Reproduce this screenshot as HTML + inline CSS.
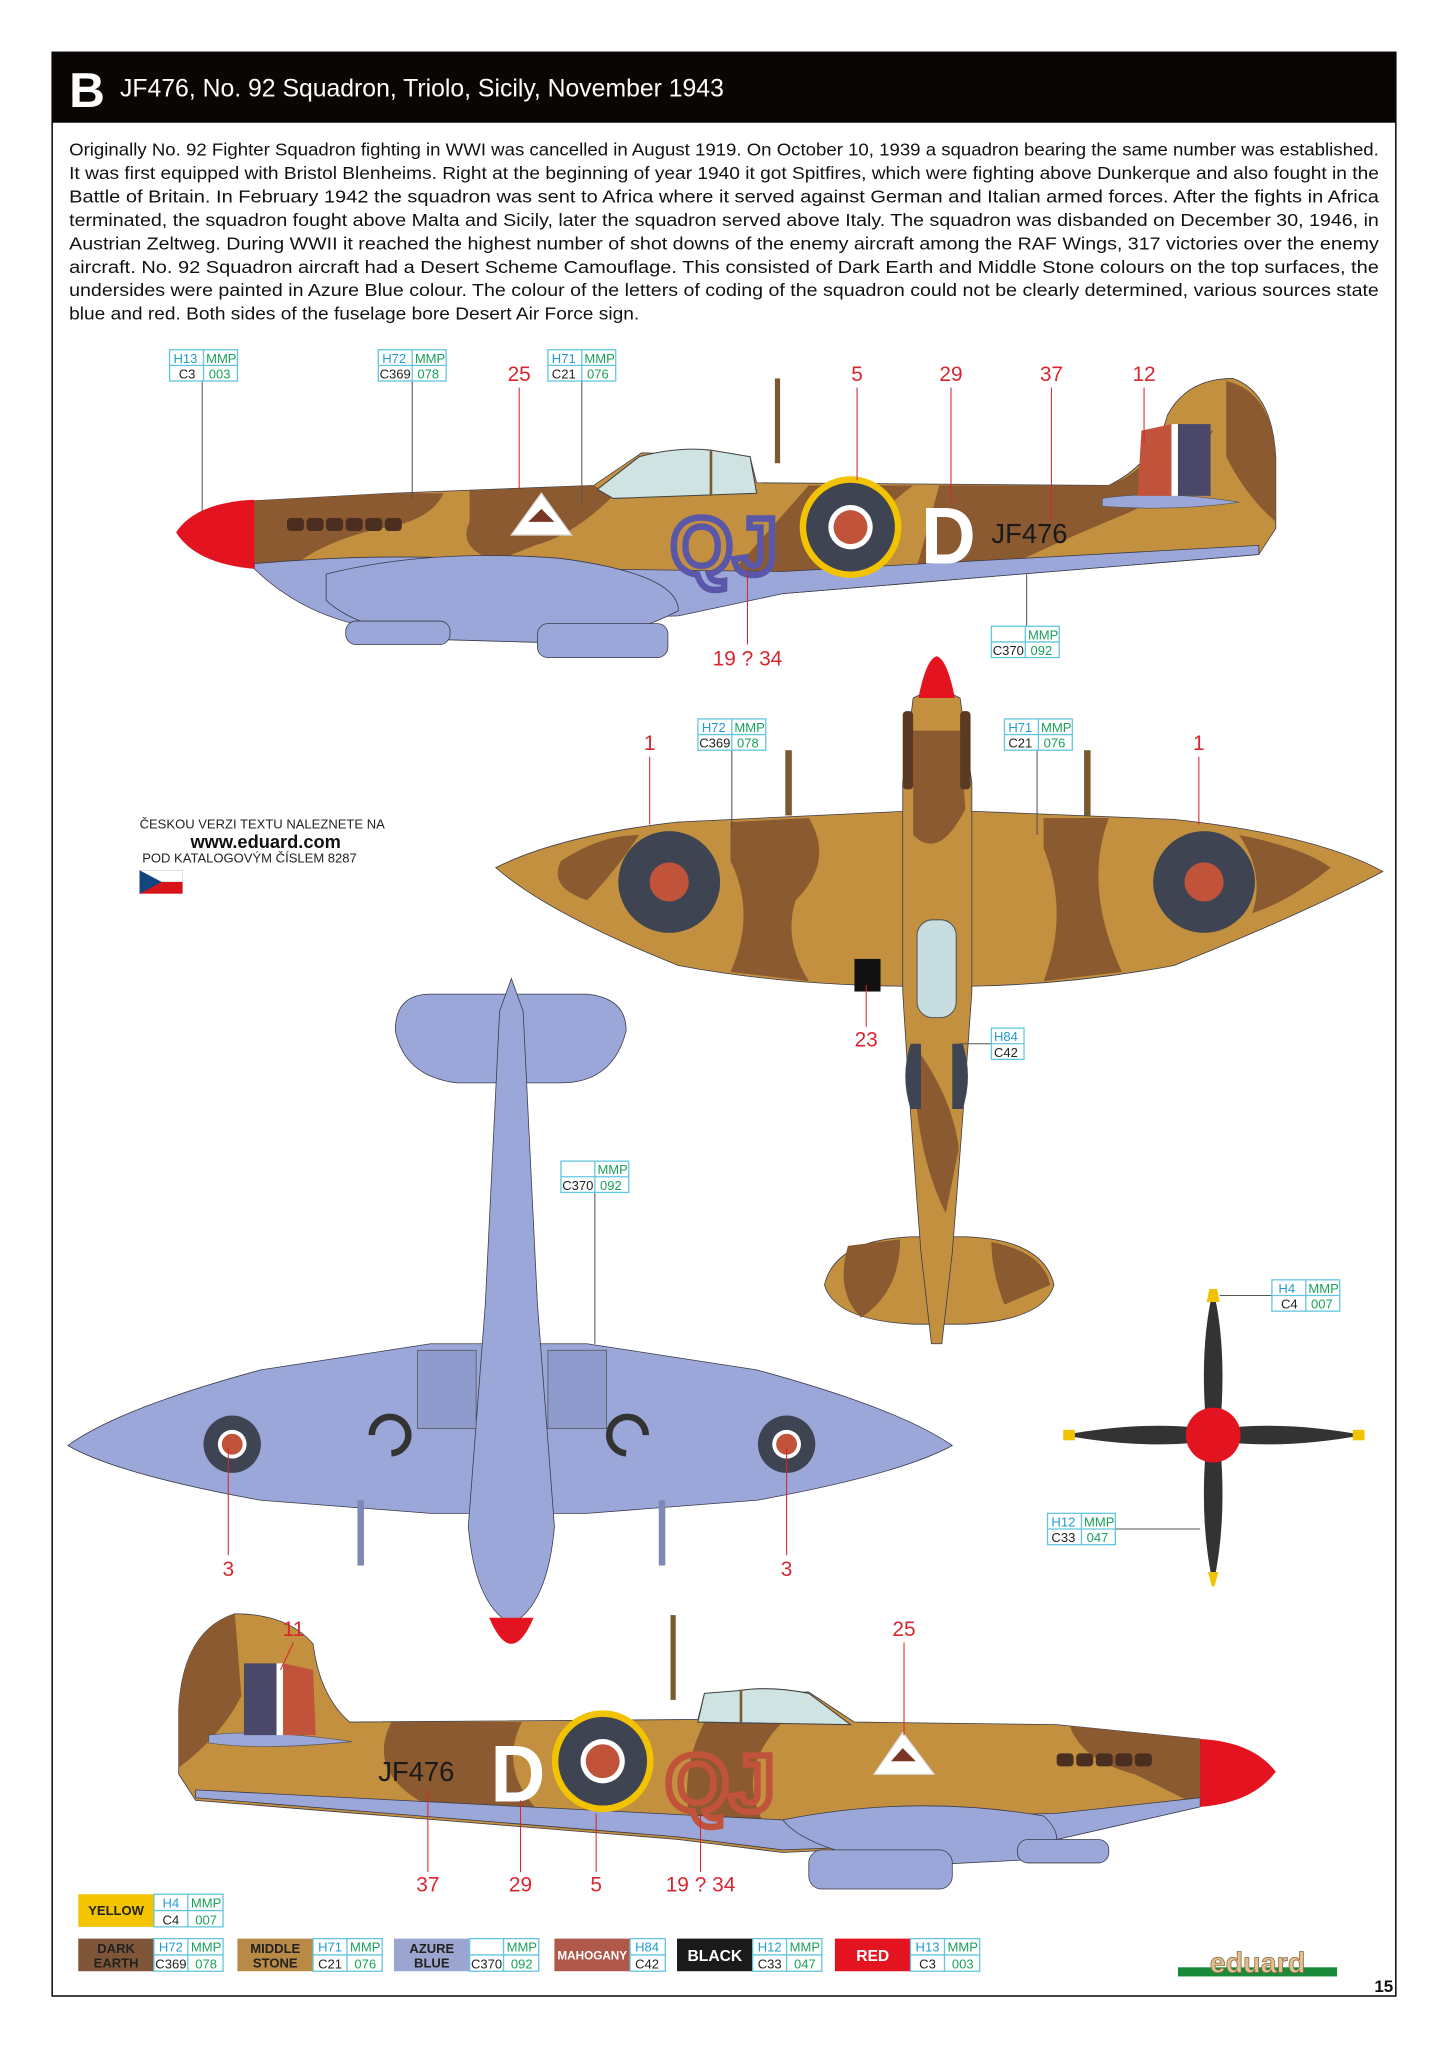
<!DOCTYPE html>
<html><head><meta charset="utf-8"><style>
html,body{margin:0;padding:0;background:#fff}
svg{display:block}
text{font-family:"Liberation Sans Narrow","Liberation Sans",sans-serif}
.p{font-size:13.6px;fill:#111}
.rn{font-size:16px;fill:#d8262f;text-anchor:middle}
.bx{fill:#fff;stroke:#63c6e0;stroke-width:1}
.c1{fill:#1f9bd0;font-size:10px}
.c2{fill:#1aa05a;font-size:10px}
.c3{fill:#222;font-size:10px}
.ld{stroke:#555;stroke-width:0.8;fill:none}
.rl{stroke:#d8262f;stroke-width:0.8;fill:none}
.ms{fill:#c2903f}
.de{fill:#8b5a30}
.az{fill:#9ba7d8}
.ol{stroke:#3a3a4a;stroke-width:0.6}
.code{font-family:"Liberation Sans",sans-serif;font-weight:bold;font-size:62px}
</style></head><body>
<svg width="1448" height="2047" viewBox="0 0 1110 1569" xmlns="http://www.w3.org/2000/svg">
<rect x="40" y="40" width="1030" height="1490" fill="#fff" stroke="#111" stroke-width="1.2"/>
<rect x="40" y="40" width="1030" height="54" fill="#0a0604"/>
<text x="53" y="82" fill="#fff" font-size="38" font-weight="bold" style="font-family:'Liberation Sans',sans-serif">B</text>
<text x="92" y="74" fill="#fff" font-size="19">JF476, No. 92 Squadron, Triolo, Sicily, November 1943</text>

<g class="p">
<text x="53" y="119" textLength="1004" lengthAdjust="spacingAndGlyphs">Originally No. 92 Fighter Squadron fighting in WWI was cancelled in August 1919. On October 10, 1939 a squadron bearing the same number was established.</text>
<text x="53" y="137" textLength="1004" lengthAdjust="spacingAndGlyphs">It was first equipped with Bristol Blenheims. Right at the beginning of year 1940 it got Spitfires, which were fighting above Dunkerque and also fought in the</text>
<text x="53" y="155" textLength="1004" lengthAdjust="spacingAndGlyphs">Battle of Britain. In February 1942 the squadron was sent to Africa where it served against German and Italian armed forces. After the fights in Africa</text>
<text x="53" y="173" textLength="1004" lengthAdjust="spacingAndGlyphs">terminated, the squadron fought above Malta and Sicily, later the squadron served above Italy. The squadron was disbanded on December 30, 1946, in</text>
<text x="53" y="191" textLength="1004" lengthAdjust="spacingAndGlyphs">Austrian Zeltweg. During WWII it reached the highest number of shot downs of the enemy aircraft among the RAF Wings, 317 victories over the enemy</text>
<text x="53" y="209" textLength="1004" lengthAdjust="spacingAndGlyphs">aircraft. No. 92 Squadron aircraft had a Desert Scheme Camouflage. This consisted of Dark Earth and Middle Stone colours on the top surfaces, the</text>
<text x="53" y="227" textLength="1004" lengthAdjust="spacingAndGlyphs">undersides were painted in Azure Blue colour. The colour of the letters of coding of the squadron could not be clearly determined, various sources state</text>
<text x="53" y="245" textLength="437" lengthAdjust="spacingAndGlyphs">blue and red. Both sides of the fuselage bore Desert Air Force sign.</text>
</g>

<!-- ===== SIDE VIEW 1 ===== -->
<g>
<rect x="594" y="290" width="4" height="65" fill="#7a5a30"/>
<path class="ms ol" d="M190,384 L300,378 L455,372 L492,347 L575,350 L580,370 L850,372 Q885,355 895,318 Q910,290 945,290 Q975,300 978,350 L978,405 L965,425 L600,455 L520,468 L300,470 L195,436 Z"/>
<path class="de" d="M190,384 L300,378 L340,378 Q330,400 290,405 Q250,415 230,430 L195,436 Z"/>
<path class="de" d="M360,376 L455,372 L470,380 Q440,410 410,418 L380,430 Q350,420 360,400 Z"/>
<path class="de" d="M560,440 L620,372 L700,372 Q650,410 640,450 Z"/>
<path class="de" d="M720,372 L850,372 Q880,360 890,335 L930,330 Q900,380 860,395 Q800,420 760,440 L700,445 Z"/>
<path class="de" d="M940,292 Q975,300 978,350 L978,400 Q955,380 940,350 Z"/>
<path d="M458,375 L490,350 Q520,342 545,345 L575,350 L580,378 L470,382 Z" fill="#cfe3e2" stroke="#444" stroke-width="0.8"/>
<path d="M545,345 L545,380" stroke="#7a5a30" stroke-width="2"/>
<path class="az ol" d="M195,436 Q230,470 280,480 L520,472 L600,455 L965,425 L965,418 L600,438 L440,436 Q330,420 195,432 Z"/>
<path class="az ol" d="M250,440 Q330,420 430,428 Q520,440 520,468 Q470,495 400,492 L330,490 Q270,480 250,460 Z"/>
<rect class="az ol" x="265" y="476" width="80" height="18" rx="8"/>
<rect class="az ol" x="412" y="478" width="100" height="26" rx="8"/>
<path d="M845,382 Q890,375 950,385 Q900,392 845,388 Z" fill="#9ba7d8" stroke="#555" stroke-width="0.5"/>
<path d="M135,408 Q150,385 195,383 L195,436 Q150,432 135,408 Z" fill="#e3141f"/>
<g fill="#4a2e20"><rect x="220" y="397" width="13" height="10" rx="3"/><rect x="235" y="397" width="13" height="10" rx="3"/><rect x="250" y="397" width="13" height="10" rx="3"/><rect x="265" y="397" width="13" height="10" rx="3"/><rect x="280" y="397" width="13" height="10" rx="3"/><rect x="295" y="397" width="13" height="10" rx="3"/></g>
<path d="M415,378 L392,410 L438,410 Z" fill="#fff" stroke="#ddd"/>
<path d="M405,400 L415,390 L425,400 Z" fill="#7a3525"/>
<path d="M875,330 L898,325 L898,380 L872,380 Z" fill="#c0533a"/>
<rect x="898" y="325" width="5" height="55" fill="#fff"/>
<rect x="903" y="325" width="25" height="55" fill="#4a4868"/>
<circle cx="652" cy="404" r="39" fill="#f2c300"/>
<circle cx="652" cy="404" r="34" fill="#3e4452"/>
<circle cx="652" cy="404" r="17" fill="#fff"/>
<circle cx="652" cy="404" r="13" fill="#c0533a"/>
<text x="706" y="432" class="code" fill="#fff" textLength="42" lengthAdjust="spacingAndGlyphs">D</text>
<text x="514" y="440" class="code" fill="none" stroke="#5a57a8" stroke-width="5" textLength="82" lengthAdjust="spacingAndGlyphs">QJ</text>
<text x="760" y="416" font-size="21" fill="#1a1a1a">JF476</text>
</g>

<!-- ===== TOP VIEW ===== -->
<g>
<path class="ms ol" d="M380,665 Q430,640 520,630 L690,622 L750,622 L900,628 Q1010,640 1060,668 Q1000,700 900,740 Q820,755 740,756 L695,756 Q600,755 520,740 Q420,700 380,665 Z"/>
<path class="de" d="M560,630 L620,627 Q640,660 610,690 Q600,720 620,752 L560,745 Q580,700 560,660 Z"/>
<path class="de" d="M430,660 Q460,640 490,640 Q470,670 450,690 Q420,680 430,660 Z"/>
<path class="de" d="M800,627 L850,627 Q830,680 860,745 L800,752 Q820,700 800,650 Z"/>
<path class="de" d="M950,640 Q1000,650 1020,665 Q990,690 960,700 Q970,670 950,640 Z"/>
<path class="ms ol" d="M632,985 Q640,950 700,948 L740,948 Q800,950 808,985 Q800,1012 740,1015 L700,1015 Q640,1012 632,985 Z"/>
<path class="de" d="M650,955 L690,950 Q690,990 660,1010 Q640,990 650,955 Z"/>
<path class="de" d="M760,952 Q800,960 805,985 L770,1000 Q760,975 760,952 Z"/>
<path class="ms ol" d="M700,535 Q718,525 736,535 L745,600 L745,760 Q738,860 730,960 L722,1030 L714,1030 L706,960 Q698,860 692,760 L692,600 Z"/>
<path class="de" d="M700,560 L736,560 L740,620 Q720,660 700,640 Z"/>
<path class="de" d="M700,800 Q730,840 735,880 L725,930 Q700,880 700,800 Z"/>
<path d="M704,535 Q710,505 718,503 Q726,505 732,535 Z" fill="#e3141f"/>
<g fill="#5a3a22"><rect x="692" y="545" width="8" height="60" rx="3"/><rect x="736" y="545" width="8" height="60" rx="3"/></g>
<rect x="703" y="705" width="30" height="75" rx="12" fill="#c8dde0" stroke="#555" stroke-width="0.8"/>
<rect x="655" y="735" width="20" height="25" fill="#111"/>
<rect x="602" y="575" width="5" height="50" fill="#7a5a30"/>
<rect x="831" y="575" width="5" height="50" fill="#7a5a30"/>
<circle cx="513" cy="676" r="39" fill="#3e4452"/><circle cx="513" cy="676" r="15" fill="#c0533a"/>
<circle cx="923" cy="676" r="39" fill="#3e4452"/><circle cx="923" cy="676" r="15" fill="#c0533a"/>
<path d="M698,800 Q690,825 698,850 L706,850 L706,800 Z" fill="#3e4452"/>
<path d="M738,800 Q746,825 738,850 L730,850 L730,800 Z" fill="#3e4452"/>
</g>

<!-- ===== BOTTOM VIEW ===== -->
<g>
<path class="az ol" d="M303,790 Q303,762 330,762 L450,762 Q480,765 480,790 Q470,830 430,830 L350,830 Q310,825 303,790 Z"/>
<path class="az ol" d="M52,1108 Q90,1080 200,1050 L330,1030 L450,1030 L580,1050 Q690,1080 730,1108 Q690,1130 580,1150 L450,1160 L330,1160 L200,1150 Q90,1130 52,1108 Z"/>
<path class="az ol" d="M383,775 L392,750 L401,775 L412,1000 L425,1170 Q420,1230 392,1245 Q364,1230 359,1170 L372,1000 Z"/>
<path d="M375,1240 Q392,1280 409,1240 Z" fill="#e3141f"/>
<rect x="320" y="1035" width="45" height="60" fill="#8f9bcc" stroke="#555" stroke-width="0.6"/>
<rect x="420" y="1035" width="45" height="60" fill="#8f9bcc" stroke="#555" stroke-width="0.6"/>
<rect x="274" y="1150" width="5" height="50" fill="#7f88b5"/><rect x="505" y="1150" width="5" height="50" fill="#7f88b5"/>
<circle cx="178" cy="1107" r="22" fill="#3e4452"/><circle cx="178" cy="1107" r="11" fill="#fff"/><circle cx="178" cy="1107" r="8" fill="#c0533a"/>
<circle cx="603" cy="1107" r="22" fill="#3e4452"/><circle cx="603" cy="1107" r="11" fill="#fff"/><circle cx="603" cy="1107" r="8" fill="#c0533a"/>
<path d="M285,1100 A14,14 0 1 1 300,1114" fill="none" stroke="#333" stroke-width="5"/>
<path d="M495,1100 A14,14 0 1 0 480,1114" fill="none" stroke="#333" stroke-width="5"/>
</g>

<!-- ===== PROPELLER ===== -->
<g>
<path d="M924,1085 Q920,1030 930,988 Q940,1030 936,1085 Z" fill="#333"/>
<path d="M924,1115 Q920,1170 930,1215 Q940,1170 936,1115 Z" fill="#333"/>
<path d="M915,1094 Q870,1090 815,1100 Q870,1110 915,1106 Z" fill="#333"/>
<path d="M945,1094 Q990,1090 1045,1100 Q990,1110 945,1106 Z" fill="#333"/>
<path d="M927,988 L933,988 L935,998 L925,998 Z" fill="#f2c300"/>
<path d="M926,1205 L934,1205 L931,1216 L929,1216 Z" fill="#f2c300"/>
<rect x="815" y="1096" width="9" height="8" fill="#f2c300"/><rect x="1037" y="1096" width="9" height="8" fill="#f2c300"/>
<circle cx="930" cy="1100" r="21" fill="#e3141f"/>
</g>

<!-- ===== SIDE VIEW 2 ===== -->
<g>
<rect x="514" y="1238" width="4" height="65" fill="#7a5a30"/>
<path class="ms ol" d="M920,1333 L810,1322 L655,1320 L620,1297 L540,1298 L535,1318 L268,1320 Q245,1300 240,1260 Q220,1237 180,1237 Q140,1250 137,1310 L137,1360 L150,1380 L520,1410 L600,1420 L810,1410 L920,1385 Z"/>
<path class="de" d="M920,1333 L820,1323 Q830,1350 870,1360 Q900,1375 920,1385 Z"/>
<path class="de" d="M600,1320 L540,1320 Q520,1360 530,1400 L590,1405 Q560,1360 600,1320 Z"/>
<path class="de" d="M400,1320 L300,1320 Q280,1360 330,1385 L420,1395 Q380,1360 400,1320 Z"/>
<path class="de" d="M180,1237 Q140,1250 137,1310 L137,1355 Q170,1330 185,1300 Z"/>
<path d="M652,1322 L620,1298 Q590,1292 565,1296 L540,1298 L535,1320 Z" fill="#cfe3e2" stroke="#444" stroke-width="0.8"/>
<path d="M568,1296 L568,1320" stroke="#7a5a30" stroke-width="2"/>
<path class="az ol" d="M150,1378 L520,1408 L600,1418 L810,1410 L920,1385 L920,1378 L810,1390 L600,1395 L150,1372 Z"/>
<path class="az ol" d="M600,1395 Q700,1375 800,1392 Q820,1410 800,1425 L700,1430 Q620,1420 600,1395 Z"/>
<rect class="az ol" x="620" y="1418" width="110" height="30" rx="10"/>
<rect class="az ol" x="780" y="1410" width="70" height="18" rx="8"/>
<path d="M160,1330 Q200,1325 270,1335 Q200,1342 160,1336 Z" fill="#9ba7d8" stroke="#555" stroke-width="0.5"/>
<path d="M978,1358 Q960,1335 920,1333 L920,1385 Q960,1382 978,1358 Z" fill="#e3141f"/>
<g fill="#4a2e20"><rect x="810" y="1344" width="13" height="10" rx="3"/><rect x="825" y="1344" width="13" height="10" rx="3"/><rect x="840" y="1344" width="13" height="10" rx="3"/><rect x="855" y="1344" width="13" height="10" rx="3"/><rect x="870" y="1344" width="13" height="10" rx="3"/></g>
<path d="M692,1328 L670,1360 L716,1360 Z" fill="#fff" stroke="#ddd"/>
<path d="M683,1350 L692,1340 L702,1350 Z" fill="#7a3525"/>
<rect x="187" y="1275" width="25" height="55" fill="#4a4868"/>
<rect x="212" y="1275" width="5" height="55" fill="#fff"/>
<path d="M217,1275 L240,1280 L242,1330 L217,1330 Z" fill="#c0533a"/>
<circle cx="462" cy="1350" r="39" fill="#f2c300"/>
<circle cx="462" cy="1350" r="34" fill="#3e4452"/>
<circle cx="462" cy="1350" r="17" fill="#fff"/>
<circle cx="462" cy="1350" r="13" fill="#c0533a"/>
<text x="376" y="1381" class="code" fill="#fff" textLength="42" lengthAdjust="spacingAndGlyphs">D</text>
<text x="510" y="1388" class="code" fill="none" stroke="#c0533a" stroke-width="5" textLength="84" lengthAdjust="spacingAndGlyphs">QJ</text>
<text x="290" y="1365" font-size="21" fill="#1a1a1a">JF476</text>
</g>

<!-- Czech text -->
<text x="107" y="635" font-size="10" fill="#222" style="font-family:'Liberation Sans',sans-serif">ČESKOU VERZI TEXTU NALEZNETE NA</text>
<text x="146" y="650" font-size="14" font-weight="bold" fill="#111" style="font-family:'Liberation Sans',sans-serif">www.eduard.com</text>
<text x="109" y="661" font-size="10" fill="#222" style="font-family:'Liberation Sans',sans-serif">POD KATALOGOVÝM ČÍSLEM 8287</text>
<rect x="107" y="667" width="33" height="9" fill="#fff" stroke="#ccc" stroke-width="0.5"/>
<rect x="107" y="676" width="33" height="9" fill="#d7141a"/>
<path d="M107,667 L124,676 L107,685 Z" fill="#11457e"/>

<!-- leader lines -->
<g class="ld">
<path d="M155,292 L155,392"/><path d="M316,292 L316,382"/><path d="M446,292 L446,386"/>
<path d="M787,480 L787,440"/><path d="M561,575 L561,635"/><path d="M795,575 L795,640"/>
<path d="M760,800 L735,800"/><path d="M456,914 L456,1030"/><path d="M975,993 L935,993"/><path d="M855,1172 L920,1172"/>
</g>
<g class="rl">
<path d="M398,297 L398,375"/><path d="M657,297 L657,368"/><path d="M729,297 L729,385"/><path d="M806,297 L806,400"/><path d="M877,297 L877,340"/>
<path d="M573,494 L573,440"/><path d="M498,580 L498,632"/><path d="M919,580 L919,632"/><path d="M664,787 L664,755"/>
<path d="M175,1192 L175,1110"/><path d="M603,1192 L603,1110"/><path d="M225,1259 L215,1280"/><path d="M693,1259 L693,1330"/>
<path d="M328,1435 L328,1372"/><path d="M399,1435 L399,1380"/><path d="M457,1435 L457,1390"/><path d="M537,1435 L537,1390"/>
</g>

<!-- red numbers -->
<g class="rn">
<text x="398" y="292">25</text><text x="657" y="292">5</text><text x="729" y="292">29</text><text x="806" y="292">37</text><text x="877" y="292">12</text>
<text x="573" y="510">19 ? 34</text><text x="498" y="575">1</text><text x="919" y="575">1</text><text x="664" y="802">23</text>
<text x="175" y="1208">3</text><text x="603" y="1208">3</text><text x="225" y="1254">11</text><text x="693" y="1254">25</text>
<text x="328" y="1450">37</text><text x="399" y="1450">29</text><text x="457" y="1450">5</text><text x="537" y="1450">19 ? 34</text>
</g>

<!-- paint boxes -->
<g>
<g transform="translate(130,268)"><rect class="bx" width="52" height="24"/><path d="M0,12H52M26,0V24" stroke="#63c6e0"/><text class="c1" x="3" y="10">H13</text><text class="c2" x="28" y="10">MMP</text><text class="c3" x="7" y="22">C3</text><text class="c2" x="30" y="22">003</text></g>
<g transform="translate(290,268)"><rect class="bx" width="52" height="24"/><path d="M0,12H52M26,0V24" stroke="#63c6e0"/><text class="c1" x="3" y="10">H72</text><text class="c2" x="28" y="10">MMP</text><text class="c3" x="1" y="22">C369</text><text class="c2" x="30" y="22">078</text></g>
<g transform="translate(420,268)"><rect class="bx" width="52" height="24"/><path d="M0,12H52M26,0V24" stroke="#63c6e0"/><text class="c1" x="3" y="10">H71</text><text class="c2" x="28" y="10">MMP</text><text class="c3" x="3" y="22">C21</text><text class="c2" x="30" y="22">076</text></g>
<g transform="translate(760,480)"><rect class="bx" width="52" height="24"/><path d="M0,12H52M26,0V24" stroke="#63c6e0"/><text class="c2" x="28" y="10">MMP</text><text class="c3" x="1" y="22">C370</text><text class="c2" x="30" y="22">092</text></g>
<g transform="translate(535,551)"><rect class="bx" width="52" height="24"/><path d="M0,12H52M26,0V24" stroke="#63c6e0"/><text class="c1" x="3" y="10">H72</text><text class="c2" x="28" y="10">MMP</text><text class="c3" x="1" y="22">C369</text><text class="c2" x="30" y="22">078</text></g>
<g transform="translate(770,551)"><rect class="bx" width="52" height="24"/><path d="M0,12H52M26,0V24" stroke="#63c6e0"/><text class="c1" x="3" y="10">H71</text><text class="c2" x="28" y="10">MMP</text><text class="c3" x="3" y="22">C21</text><text class="c2" x="30" y="22">076</text></g>
<g transform="translate(760,788)"><rect class="bx" width="25" height="24"/><path d="M0,12H25" stroke="#63c6e0"/><text class="c1" x="2" y="10">H84</text><text class="c3" x="2" y="22">C42</text></g>
<g transform="translate(430,890)"><rect class="bx" width="52" height="24"/><path d="M0,12H52M26,0V24" stroke="#63c6e0"/><text class="c2" x="28" y="10">MMP</text><text class="c3" x="1" y="22">C370</text><text class="c2" x="30" y="22">092</text></g>
<g transform="translate(975,981)"><rect class="bx" width="52" height="24"/><path d="M0,12H52M26,0V24" stroke="#63c6e0"/><text class="c1" x="5" y="10">H4</text><text class="c2" x="28" y="10">MMP</text><text class="c3" x="7" y="22">C4</text><text class="c2" x="30" y="22">007</text></g>
<g transform="translate(803,1160)"><rect class="bx" width="52" height="24"/><path d="M0,12H52M26,0V24" stroke="#63c6e0"/><text class="c1" x="3" y="10">H12</text><text class="c2" x="28" y="10">MMP</text><text class="c3" x="3" y="22">C33</text><text class="c2" x="30" y="22">047</text></g>
</g>

<!-- legend -->
<g font-size="10" text-anchor="middle">
<rect x="60" y="1452" width="58" height="25" fill="#f5c400"/><text x="89" y="1468" fill="#222" font-weight="bold">YELLOW</text>
<g transform="translate(118,1452)"><rect class="bx" width="53" height="25"/><path d="M0,12.5H53M26,0V25" stroke="#63c6e0"/><text class="c1" x="13" y="10">H4</text><text class="c2" x="40" y="10">MMP</text><text class="c3" x="13" y="23">C4</text><text class="c2" x="40" y="23">007</text></g>

<rect x="60" y="1486" width="58" height="25" fill="#7f5738"/><text x="89" y="1497" fill="#222" font-weight="bold">DARK</text><text x="89" y="1508" fill="#222" font-weight="bold">EARTH</text>
<g transform="translate(118,1486)"><rect class="bx" width="53" height="25"/><path d="M0,12.5H53M26,0V25" stroke="#63c6e0"/><text class="c1" x="13" y="10">H72</text><text class="c2" x="40" y="10">MMP</text><text class="c3" x="13" y="23">C369</text><text class="c2" x="40" y="23">078</text></g>

<rect x="182" y="1486" width="58" height="25" fill="#b98a45"/><text x="211" y="1497" fill="#222" font-weight="bold">MIDDLE</text><text x="211" y="1508" fill="#222" font-weight="bold">STONE</text>
<g transform="translate(240,1486)"><rect class="bx" width="53" height="25"/><path d="M0,12.5H53M26,0V25" stroke="#63c6e0"/><text class="c1" x="13" y="10">H71</text><text class="c2" x="40" y="10">MMP</text><text class="c3" x="13" y="23">C21</text><text class="c2" x="40" y="23">076</text></g>

<rect x="302" y="1486" width="58" height="25" fill="#9ca5cf"/><text x="331" y="1497" fill="#222" font-weight="bold">AZURE</text><text x="331" y="1508" fill="#222" font-weight="bold">BLUE</text>
<g transform="translate(360,1486)"><rect class="bx" width="53" height="25"/><path d="M0,12.5H53M26,0V25" stroke="#63c6e0"/><text class="c2" x="40" y="10">MMP</text><text class="c3" x="13" y="23">C370</text><text class="c2" x="40" y="23">092</text></g>

<rect x="425" y="1486" width="58" height="25" fill="#b0584a"/><text x="454" y="1502" fill="#fff" font-size="9" font-weight="bold">MAHOGANY</text>
<g transform="translate(483,1486)"><rect class="bx" width="27" height="25"/><path d="M0,12.5H27" stroke="#63c6e0"/><text class="c1" x="13" y="10">H84</text><text class="c3" x="13" y="23">C42</text></g>

<rect x="519" y="1486" width="58" height="25" fill="#1a1a1a"/><text x="548" y="1503" fill="#fff" font-size="12" font-weight="bold">BLACK</text>
<g transform="translate(577,1486)"><rect class="bx" width="53" height="25"/><path d="M0,12.5H53M26,0V25" stroke="#63c6e0"/><text class="c1" x="13" y="10">H12</text><text class="c2" x="40" y="10">MMP</text><text class="c3" x="13" y="23">C33</text><text class="c2" x="40" y="23">047</text></g>

<rect x="640" y="1486" width="58" height="25" fill="#e3141f"/><text x="669" y="1503" fill="#fff" font-size="12" font-weight="bold">RED</text>
<g transform="translate(698,1486)"><rect class="bx" width="53" height="25"/><path d="M0,12.5H53M26,0V25" stroke="#63c6e0"/><text class="c1" x="13" y="10">H13</text><text class="c2" x="40" y="10">MMP</text><text class="c3" x="13" y="23">C3</text><text class="c2" x="40" y="23">003</text></g>
</g>

<rect x="903" y="1508" width="122" height="7" fill="#1a8a3a"/>
<text x="964" y="1512" font-size="22" font-weight="bold" fill="#e0c090" stroke="#8a6a40" stroke-width="0.6" text-anchor="middle" style="font-family:'Liberation Sans',sans-serif">eduard</text>
<text x="1068" y="1527" font-size="13" font-weight="bold" fill="#111" text-anchor="end">15</text>
</svg>
</body></html>
